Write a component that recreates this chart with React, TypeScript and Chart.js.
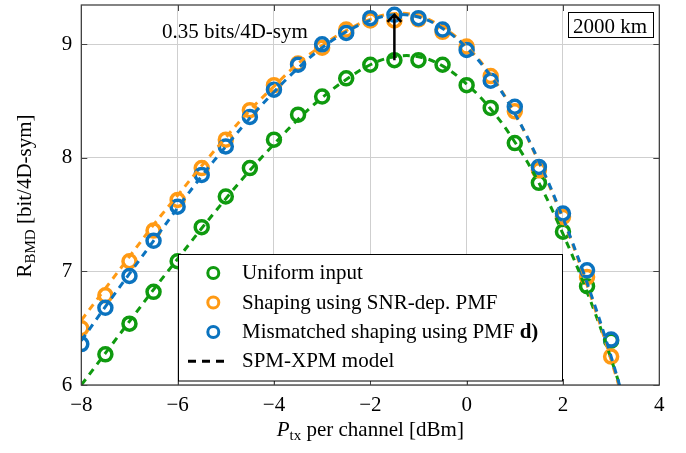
import React, { useEffect, useRef } from 'react';
import { Chart, registerables } from 'chart.js';

Chart.register(...registerables);

// ---- data ----
const pointX = [-8, -7.5, -7, -6.5, -6, -5.5, -5, -4.5, -4, -3.5, -3, -2.5, -2, -1.5, -1, -0.5, 0, 0.5, 1, 1.5, 2, 2.5, 3];
const uniformPts = [null, 6.27, 6.54, 6.82, 7.09, 7.39, 7.66, 7.91, 8.16, 8.38, 8.54, 8.70, 8.82, 8.86, 8.86, 8.82, 8.64, 8.44, 8.13, 7.78, 7.35, 6.87, 6.39];
const shapingPts = [6.50, 6.79, 7.09, 7.36, 7.63, 7.91, 8.16, 8.42, 8.64, 8.83, 8.97, 9.13, 9.21, 9.21, 9.22, 9.11, 8.98, 8.72, 8.41, 7.89, 7.48, 6.95, 6.25];
const mismatchPts = [6.36, 6.68, 6.96, 7.27, 7.57, 7.85, 8.10, 8.36, 8.60, 8.82, 9.00, 9.10, 9.23, 9.26, 9.23, 9.13, 8.95, 8.68, 8.45, 7.92, 7.51, 7.01, 6.40];

const modelX = [-8, -7.5, -7, -6.5, -6, -5.5, -5, -4.5, -4, -3.5, -3, -2.5, -2, -1.5, -1, -0.5, 0, 0.5, 1, 1.5, 2, 2.5, 3, 3.5];
const uniformModel = [6.00, 6.28, 6.56, 6.84, 7.11, 7.38, 7.64, 7.89, 8.12, 8.34, 8.53, 8.69, 8.82, 8.89, 8.89, 8.81, 8.65, 8.43, 8.14, 7.78, 7.33, 6.82, 6.23, 5.55];
const shapingModel = [6.57, 6.85, 7.13, 7.41, 7.67, 7.93, 8.18, 8.42, 8.63, 8.83, 8.99, 9.12, 9.22, 9.27, 9.25, 9.15, 8.98, 8.73, 8.39, 7.96, 7.46, 6.88, 6.22, 5.50];
const mismatchModel = [6.39, 6.69, 6.98, 7.27, 7.56, 7.84, 8.10, 8.35, 8.58, 8.79, 8.97, 9.11, 9.21, 9.26, 9.24, 9.14, 8.97, 8.72, 8.39, 7.97, 7.47, 6.90, 6.25, 5.50];

const xTicks = [-8, -6, -4, -2, 0, 2, 4];
const yTicks = [6, 7, 8, 9];
const xRange = [-8, 4];
const yRange = [6, 9.346];

const legendLabels = ['Uniform input', 'Shaping using SNR-dep. PMF', 'Mismatched shaping using PMF ', 'SPM-XPM model'];
const arrowX = -1.5;
const arrowFrom = 8.86;
const arrowTo = 9.26;
const gainLabel = '0.35 bits/4D-sym';
const distanceLabel = '2000 km';

const GREEN = '#0f9a0f';
const ORANGE = '#ff9a14';
const BLUE = '#0b73bf';
const FONT = '"Liberation Serif", "DejaVu Serif", serif';

const fmt = (v: number) => (v < 0 ? '\u2212' + Math.abs(v) : String(v));

const zip = (xs: number[], ys: (number | null)[]) =>
  xs.map((x, i) => ({ x, y: ys[i] })).filter((p) => p.y !== null) as { x: number; y: number }[];

const overlay = {
  id: 'overlay',
  afterDraw(chart: any) {
    const { ctx, chartArea: a, scales } = chart;
    const xs = scales.x;
    const ys = scales.y;
    ctx.save();
    // frame
    ctx.strokeStyle = '#333';
    ctx.lineWidth = 1.2;
    ctx.strokeRect(a.left, a.top, a.right - a.left, a.bottom - a.top);
    // inward ticks
    ctx.lineWidth = 1;
    ctx.strokeStyle = '#444';
    ctx.beginPath();
    xTicks.forEach((v) => {
      const px = Math.round(xs.getPixelForValue(v)) + 0.5;
      ctx.moveTo(px, a.bottom);
      ctx.lineTo(px, a.bottom - 6);
      ctx.moveTo(px, a.top);
      ctx.lineTo(px, a.top + 6);
    });
    yTicks.forEach((v) => {
      const py = Math.round(ys.getPixelForValue(v)) + 0.5;
      ctx.moveTo(a.left, py);
      ctx.lineTo(a.left + 6, py);
      ctx.moveTo(a.right, py);
      ctx.lineTo(a.right - 6, py);
    });
    ctx.stroke();

    // arrow
    const ax = xs.getPixelForValue(arrowX);
    const ay0 = ys.getPixelForValue(arrowFrom);
    const ay1 = ys.getPixelForValue(arrowTo);
    ctx.strokeStyle = '#000';
    ctx.lineWidth = 2.5;
    ctx.beginPath();
    ctx.moveTo(ax, ay0);
    ctx.lineTo(ax, ay1);
    ctx.moveTo(ax - 7, ay1 + 7);
    ctx.lineTo(ax, ay1);
    ctx.lineTo(ax + 7, ay1 + 7);
    ctx.stroke();

    // annotation text
    ctx.fillStyle = '#000';
    ctx.font = `21px ${FONT}`;
    ctx.textAlign = 'left';
    ctx.textBaseline = 'alphabetic';
    ctx.fillText(gainLabel, 162, 38);

    // distance box
    ctx.fillStyle = '#fff';
    ctx.fillRect(568, 12, 86, 26);
    ctx.strokeStyle = '#000';
    ctx.lineWidth = 1;
    ctx.strokeRect(568.5, 12.5, 85, 25);
    ctx.fillStyle = '#000';
    ctx.fillText(distanceLabel, 573, 33);

    // legend
    const lx = 178.5, ly = 254.5, lw = 384, lh = 126.5;
    ctx.fillStyle = '#fff';
    ctx.fillRect(lx, ly, lw, lh);
    ctx.strokeStyle = '#000';
    ctx.lineWidth = 1;
    ctx.strokeRect(lx, ly, lw, lh);
    const colors = [GREEN, ORANGE, BLUE];
    const baselines = [279, 308.5, 338, 367.3];
    for (let i = 0; i < 3; i++) {
      ctx.strokeStyle = colors[i];
      ctx.lineWidth = 3;
      ctx.beginPath();
      ctx.arc(213.3, baselines[i] - 6, 5.5, 0, Math.PI * 2);
      ctx.stroke();
    }
    ctx.strokeStyle = '#000';
    ctx.lineWidth = 3;
    ctx.setLineDash([8, 6]);
    ctx.beginPath();
    ctx.moveTo(188, baselines[3] - 6);
    ctx.lineTo(230, baselines[3] - 6);
    ctx.stroke();
    ctx.setLineDash([]);
    ctx.fillStyle = '#000';
    ctx.font = `21px ${FONT}`;
    legendLabels.forEach((t, i) => ctx.fillText(t, 242, baselines[i]));
    const w2 = ctx.measureText(legendLabels[2]).width;
    ctx.font = `bold 21px ${FONT}`;
    ctx.fillText('d)', 242 + w2, baselines[2]);

    // x title
    ctx.font = `italic 21px ${FONT}`;
    const wP = ctx.measureText('P').width;
    ctx.font = `15px ${FONT}`;
    const wSub = ctx.measureText('tx').width;
    ctx.font = `21px ${FONT}`;
    const rest = ' per channel [dBm]';
    const wRest = ctx.measureText(rest).width;
    const total = wP + wSub + wRest;
    let sx = (a.left + a.right) / 2 - total / 2;
    const by = 436;
    ctx.font = `italic 21px ${FONT}`;
    ctx.fillText('P', sx, by);
    sx += wP;
    ctx.font = `15px ${FONT}`;
    ctx.fillText('tx', sx, by + 4);
    sx += wSub;
    ctx.font = `21px ${FONT}`;
    ctx.fillText(rest, sx, by);

    // y title
    ctx.save();
    ctx.translate(31, 196);
    ctx.rotate(-Math.PI / 2);
    ctx.font = `21px ${FONT}`;
    const wR = ctx.measureText('R').width;
    ctx.font = `15px ${FONT}`;
    const wB = ctx.measureText('BMD').width;
    ctx.font = `21px ${FONT}`;
    const yRest = ' [bit/4D-sym]';
    const wY = ctx.measureText(yRest).width;
    let tx = -(wR + wB + wY) / 2;
    ctx.fillText('R', tx, 0);
    tx += wR;
    ctx.font = `15px ${FONT}`;
    ctx.fillText('BMD', tx, 4);
    tx += wB;
    ctx.font = `21px ${FONT}`;
    ctx.fillText(yRest, tx, 0);
    ctx.restore();

    ctx.restore();
  },
};

export default function App() {
  const ref = useRef<HTMLCanvasElement | null>(null);
  useEffect(() => {
    if (!ref.current) return;
    const pointDs = (label: string, ys: (number | null)[], color: string) => ({
      label,
      data: zip(pointX, ys),
      showLine: false,
      borderColor: color,
      backgroundColor: 'rgba(0,0,0,0)',
      pointStyle: 'circle',
      pointRadius: 6.5,
      pointBorderWidth: 3.5,
      pointBackgroundColor: 'rgba(0,0,0,0)',
      pointBorderColor: color,
    });
    const modelDs = (label: string, ys: number[], color: string) => ({
      label,
      data: zip(modelX, ys),
      showLine: true,
      borderColor: color,
      backgroundColor: 'rgba(0,0,0,0)',
      borderWidth: 3,
      borderDash: [7, 6],
      pointRadius: 0,
      tension: 0.4,
      fill: false,
    });
    const chart = new Chart(ref.current, {
      type: 'scatter',
      data: {
        datasets: [
          modelDs('model blue', mismatchModel, BLUE),
          modelDs('model orange', shapingModel, ORANGE),
          modelDs('model green', uniformModel, GREEN),
          pointDs(legendLabels[2], mismatchPts, BLUE),
          pointDs(legendLabels[1], shapingPts, ORANGE),
          pointDs(legendLabels[0], uniformPts, GREEN),
        ] as any,
      },
      options: {
        animation: false,
        responsive: false,
        devicePixelRatio: 1,
        layout: { autoPadding: false, padding: { left: 0, top: 5, right: 26.7, bottom: 0 } },
        plugins: { legend: { display: false }, tooltip: { enabled: false }, title: { display: false } },
        scales: {
          x: {
            type: 'linear',
            min: xRange[0],
            max: xRange[1],
            afterBuildTicks: (s: any) => { s.ticks = xTicks.map((v) => ({ value: v })); },
            afterFit: (s: any) => { s.height = 68; s.paddingLeft = 0; s.paddingRight = 0; },
            grid: { color: '#cfcfcf', lineWidth: 1, drawTicks: false },
            border: { display: false },
            ticks: {
              color: '#000',
              font: { family: FONT, size: 21 },
              padding: 8,
              maxRotation: 0,
              callback: (v: any) => fmt(Number(v)),
            },
          },
          y: {
            type: 'linear',
            min: yRange[0],
            max: yRange[1],
            afterBuildTicks: (s: any) => { s.ticks = yTicks.map((v) => ({ value: v })); },
            afterFit: (s: any) => { s.width = 81.3; s.paddingTop = 0; s.paddingBottom = 0; },
            grid: { color: '#cfcfcf', lineWidth: 1, drawTicks: false },
            border: { display: false },
            ticks: {
              color: '#000',
              font: { family: FONT, size: 21 },
              padding: 9,
              callback: (v: any) => fmt(Number(v)),
            },
          },
        },
      } as any,
      plugins: [overlay],
    });
    return () => chart.destroy();
  }, []);
  return (
    <div style={{ position: 'fixed', left: 0, top: 0, width: 686, height: 453, background: '#fff' }}>
      <canvas ref={ref} width={686} height={453} style={{ display: 'block', width: 686, height: 453 }} />
    </div>
  );
}
